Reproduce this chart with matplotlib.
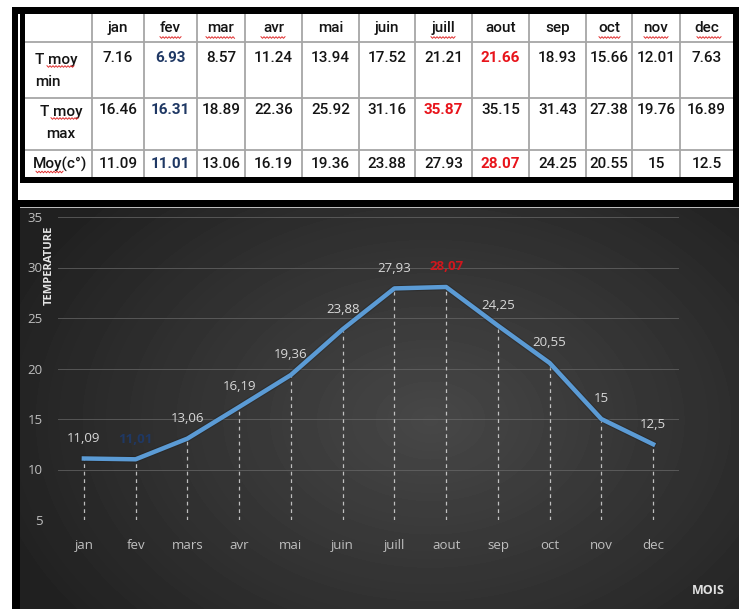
import numpy as np
import matplotlib
matplotlib.use('Agg')
import matplotlib.pyplot as plt
from matplotlib.patches import Rectangle

# table data
tbl_months = ['jan', 'fev', 'mar', 'avr', 'mai', 'juin', 'juill', 'aout',
              'sep', 'oct', 'nov', 'dec']
t_min = [7.16, 6.93, 8.57, 11.24, 13.94, 17.52, 21.21, 21.66, 18.93, 15.66, 12.01, 7.63]
t_max = [16.46, 16.31, 18.89, 22.36, 25.92, 31.16, 35.87, 35.15, 31.43, 27.38, 19.76, 16.89]
t_moy = [11.09, 11.01, 13.06, 16.19, 19.36, 23.88, 27.93, 28.07, 24.25, 20.55, 15, 12.5]

# chart data
chart_months = ['jan', 'fev', 'mars', 'avr', 'mai', 'juin', 'juill', 'aout',
                'sep', 'oct', 'nov', 'dec']
y_ticks = [5, 10, 15, 20, 25, 30, 35]

W, H = 739, 609
NAVY = '#1f3864'
RED = '#e8141b'
TBL_FONT = 'Roboto'
TBL_SIZE = 11
CH_FONT = 'Open Sans'

fig = plt.figure(figsize=(W / 100, H / 100), dpi=100)
fig.patch.set_facecolor('white')

# background axes in pixel coordinates
bg = fig.add_axes([0, 0, 1, 1])
bg.set_xlim(0, W)
bg.set_ylim(H, 0)
bg.axis('off')

# dark radial gradient behind the chart
yy, xx = np.mgrid[203:609, 20:739]
r = np.hypot((xx - 430) / 450.0, (yy - 420) / 320.0)
shade = 0.28 - 0.15 * np.clip(r, 0, 1)
bg.imshow(shade, cmap='gray', vmin=0, vmax=1, extent=(20, 739, 609, 203),
          aspect='auto', interpolation='bilinear', zorder=0)


def box(x, y, w, h, color='black'):
    bg.add_patch(Rectangle((x, y), w, h, facecolor=color, edgecolor='none', zorder=3))


# frames
box(12, 7, 727, 7)       # top
box(12, 7, 6, 602)       # outer left
box(733, 7, 6, 200)      # right
box(20, 14, 5, 169)      # table left border
box(20, 177, 713, 6)     # table bottom
box(12, 200, 8, 409)     # chart left
box(12, 200, 727, 7)     # chart top
box(20, 207, 719, 1.2, '#bcbcbc')

# table grid
col_edges = [25, 92, 144, 197, 245, 302, 359, 415, 472, 529, 586, 632, 680, 733]
row_edges = [14, 42, 98, 150, 177]
for xe in col_edges[1:-1]:
    bg.plot([xe, xe], [row_edges[0], row_edges[-1]], color='#a6a6a6', lw=1.3, zorder=2)
for ye in row_edges[1:-1]:
    bg.plot([col_edges[0], col_edges[-1]], [ye, ye], color='#a6a6a6', lw=1.3, zorder=2)


def cell_text(cx, cy, s, color='#141414', bold=False, **kw):
    bg.text(cx, cy, s, family=TBL_FONT, weight='bold' if bold else 'medium',
            fontsize=TBL_SIZE, color=color, zorder=4, **kw)


centers = [(a + b) / 2 for a, b in zip(col_edges[1:], col_edges[2:])]
for cx, m in zip(centers, tbl_months):
    cell_text(cx, 28, m, ha='center', va='center')

cell_text(35, 71, 'T moy\nmin', ha='left', va='center', multialignment='left',
          linespacing=1.8)
cell_text(61, 123, 'T moy\nmax', ha='center', va='center', multialignment='center',
          linespacing=1.8)
cell_text(60, 164, 'Moy(c°)', ha='center', va='center')

for row, ytxt in zip([t_min, t_max, t_moy], [58, 110, 164]):
    lo, hi = int(np.argmin(row)), int(np.argmax(row))
    for i, (cx, v) in enumerate(zip(centers, row)):
        if i == lo:
            cell_text(cx, ytxt, f'{v:g}', color=NAVY, bold=True, ha='center', va='center')
        elif i == hi:
            cell_text(cx, ytxt, f'{v:g}', color=RED, bold=True, ha='center', va='center')
        else:
            cell_text(cx, ytxt, f'{v:g}', ha='center', va='center')


def squiggle(x0, x1, y):
    xs = np.arange(x0, x1 + 0.1, 1.5)
    ys = y + np.where(np.arange(len(xs)) % 2 == 0, -0.8, 0.8)
    bg.plot(xs, ys, color='#e03030', lw=0.7, zorder=4)


# spell-check underlines
for x0, x1 in [(160, 181), (206, 235), (261, 286), (431, 456), (599, 620),
               (644, 669), (697, 722)]:
    squiggle(x0, x1, 37.5)
squiggle(47, 75, 66.5)
squiggle(51, 78, 118.5)
squiggle(36, 63, 172)

# chart axes
ax = fig.add_axes([58 / W, (H - 520) / H, (679 - 58) / W, (520 - 217) / H])
ax.patch.set_alpha(0)
x = np.arange(len(chart_months))
ax.set_xlim(-0.5, len(chart_months) - 0.5)
ax.set_ylim(y_ticks[0], y_ticks[-1])
for s in ax.spines.values():
    s.set_visible(False)
ax.set_yticks(y_ticks)
ax.set_xticks(x)
ax.set_xticklabels(chart_months)
ax.tick_params(length=0, labelcolor='#bfbfbf', labelsize=9.5)
ax.tick_params(axis='y', pad=11)
ax.tick_params(axis='x', pad=14)
for lab in ax.get_xticklabels() + ax.get_yticklabels():
    lab.set_family(CH_FONT)
ax.grid(axis='y', color='#6a6a6a', lw=0.7, alpha=0.7)
ax.set_axisbelow(True)

ax.vlines(x, y_ticks[0], t_moy, colors='#d8d8d8', lw=0.9,
          linestyles=(0, (3, 3)), alpha=0.85, zorder=2)
ax.plot(x, t_moy, color='#1c1c1c', lw=4.8, alpha=0.35, zorder=3)
ax.plot(x, t_moy, color='#5b9bd5', lw=3.2, zorder=4)

lo, hi = int(np.argmin(t_moy)), int(np.argmax(t_moy))
for i, v in enumerate(t_moy):
    col, wt = '#d9d9d9', 'normal'
    if i == lo:
        col, wt = NAVY, 'bold'
    elif i == hi:
        col, wt = '#d0161c', 'bold'
    ax.annotate(f'{v:g}'.replace('.', ','), (x[i], v), xytext=(0, 14.5),
                textcoords='offset points', ha='center', va='center',
                fontsize=9.5, family=CH_FONT, color=col, weight=wt, zorder=5)

fig.text(49 / W, 1 - 265 / H, 'TEMPERATURE', rotation=90, ha='center', va='center',
         fontsize=8, weight='bold', family=CH_FONT, color='#e6e6e6')
fig.text(708 / W, 1 - 590 / H, 'MOIS', ha='center', va='center',
         fontsize=9, weight='bold', family=CH_FONT, color='#e0e0e0')

fig.savefig('out.png', dpi=100)
